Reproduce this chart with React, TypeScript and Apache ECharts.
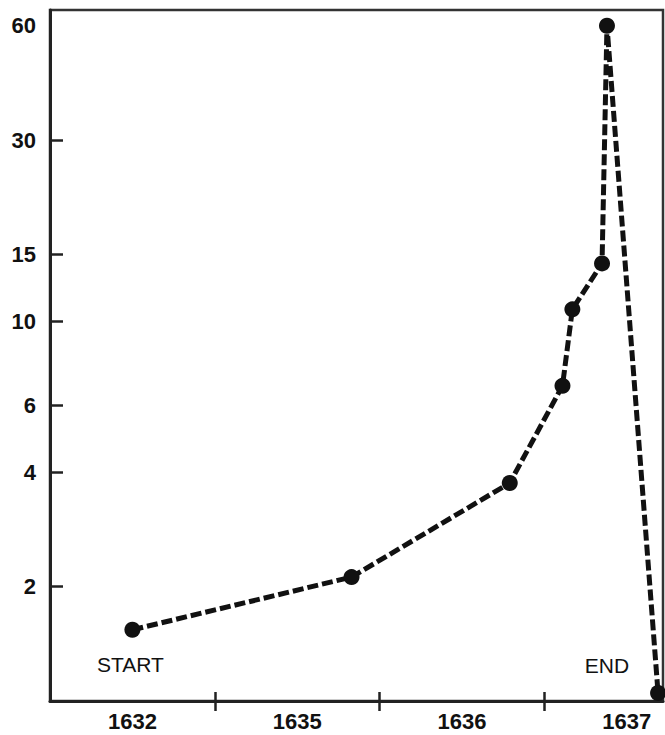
import { useEffect, useRef } from 'react';
import * as echarts from 'echarts';

const periodLabels = ['1632', '1635', '1636', '1637'];
const periodLabelPositions = [0.5, 1.5, 2.5, 3.5];
const periodBoundaries = [1, 2, 3];
const yTickValues = [2, 4, 6, 10, 15, 30];
const yLabelValues = [2, 4, 6, 10, 15, 30, 60];
const pricePositions = [0.5, 1.83, 2.79, 3.11, 3.17, 3.35, 3.38, 3.69];
const priceValues = [1.54, 2.12, 3.75, 6.76, 10.75, 14.2, 60, 1.05];
const pointNotes = ['START', '', '', '', '', '', '', 'END'];

const FONT = '"Liberation Sans", Arial, sans-serif';
const INK = '#111';

export default function App() {
  const ref = useRef<HTMLDivElement>(null);
  useEffect(() => {
    document.body.style.margin = '0';
    const chart = echarts.init(ref.current!, null, { renderer: 'svg' });
    const data = pricePositions.map((x, i) => {
      const item: any = { value: [x, priceValues[i]] };
      if (pointNotes[i] === 'START') {
        item.label = {
          show: true, formatter: pointNotes[i], position: 'bottom', distance: 14,
          fontFamily: FONT, fontSize: 21, color: INK, offset: [-2, 2],
        };
      } else if (pointNotes[i] === 'END') {
        item.label = {
          show: true, formatter: pointNotes[i], position: 'left', distance: 4,
          fontFamily: FONT, fontSize: 21, color: INK, offset: [-17, -27],
        };
      }
      return item;
    });
    chart.setOption({
      animation: false,
      grid: {
        left: 50, right: 2, top: 10, bottom: 34, show: true,
        borderColor: '#333', borderWidth: 2.5, backgroundColor: '#fff',
      },
      xAxis: [
        {
          type: 'value', min: 0, max: 3.72, position: 'bottom',
          axisLine: { show: true, lineStyle: { color: '#222', width: 3 } },
          splitLine: { show: false },
          axisTick: { show: true, customValues: periodBoundaries, length: 10, lineStyle: { color: '#222', width: 2.5 } },
          axisLabel: {
            customValues: periodLabelPositions, margin: 9,
            formatter: (v: number) => periodLabels[Math.floor(v)] ?? '',
            fontFamily: FONT, fontWeight: 'bold', fontSize: 22, color: INK,
          },
        },
        {
          type: 'value', min: 0, max: 3.72, position: 'bottom', gridIndex: 0,
          axisLine: { show: false },
          splitLine: { show: false },
          axisTick: { show: true, inside: true, customValues: periodBoundaries, length: 9, lineStyle: { color: '#222', width: 2.5 } },
          axisLabel: { show: false },
        },
      ],
      yAxis: {
        type: 'log', logBase: 10, min: 1, max: 66,
        axisLine: { show: true, lineStyle: { color: '#222', width: 3 } },
        splitLine: { show: false },
        minorTick: { show: false },
        axisTick: { show: true, inside: true, customValues: yTickValues, length: 13, lineStyle: { color: '#222', width: 2.5 } },
        axisLabel: {
          customValues: yLabelValues, margin: 14,
          fontFamily: FONT, fontWeight: 'bold', fontSize: 22, color: INK,
        },
      },
      series: [
        {
          type: 'line', xAxisIndex: 0, yAxisIndex: 0, data, clip: false,
          symbol: 'circle', symbolSize: 16,
          itemStyle: { color: INK },
          lineStyle: { color: INK, width: 5, type: [11, 4] },
        },
      ],
    });
    return () => chart.dispose();
  }, []);
  return <div ref={ref} style={{ width: 665, height: 735 }} />;
}
